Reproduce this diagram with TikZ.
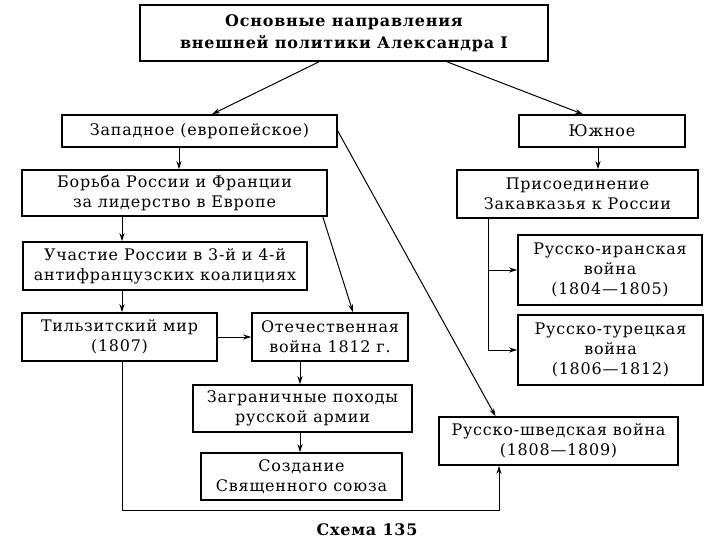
\documentclass[tikz,border=0pt]{standalone}
\usepackage{fontspec}
\setmainfont{DejaVu Serif}[LetterSpace=5]
\usetikzlibrary{arrows.meta,positioning}
\tikzset{
  box/.style  = {draw=black, line width=1.6bp, align=center, inner sep=0pt,
                 font=\fontsize{16}{20}\selectfont},
  hbox/.style = {box, font=\fontsize{16}{22}\selectfont\bfseries},
  wh/.style 2 args = {minimum width=#1, minimum height=#2},
  ar/.style   = {-{Stealth[length=8bp, width=5bp]}, line width=1bp},
  caption/.style = {font=\fontsize{16}{18}\selectfont\bfseries},
}
\begin{document}
\begin{tikzpicture}[x=1bp, y=-1bp]
  \useasboundingbox (0,0) rectangle (720,540);
  % heading
  \node[hbox, wh={408bp}{56bp}] (main) at (344,33) {Основные направления\\внешней политики Александра I};
  % two directions
  \node[box, wh={275bp}{32bp}] (west) at (199.5,131) {Западное (европейское)};
  \node[box, wh={166bp}{32bp}] (south) at (602,131) {Южное};
  % western branch
  \node[box, wh={305bp}{46bp}] (struggle) at (174.5,193) {Борьба России и Франции\\за лидерство в Европе};
  \node[box, wh={284bp}{48bp}] (coalition) at (165,266) {Участие России в 3-й и 4-й\\антифранцузских коалициях};
  \node[box, wh={195bp}{48bp}] (tilsit) at (119.5,337) {Тильзитский мир\\(1807)};
  \node[box, wh={156bp}{48bp}] (patriotic) at (330,337) {Отечественная\\война 1812 г.};
  \node[box, wh={219bp}{47bp}] (campaigns) at (302.5,408.5) {Заграничные походы\\русской армии};
  \node[box, wh={201bp}{47bp}] (alliance) at (301.5,476.5) {Создание\\Священного союза};
  \node[box, wh={239bp}{48bp}] (sweden) at (558.5,441) {Русско-шведская война\\(1808---1809)};
  % southern branch
  \node[box, wh={241bp}{48bp}] (annex) at (577.5,194) {Присоединение\\Закавказья к России};
  \node[box, wh={184bp}{70bp}] (iran) at (610,270) {Русско-иранская\\война\\(1804---1805)};
  \node[box, wh={185bp}{70bp}] (turkey) at (610.5,350) {Русско-турецкая\\война\\(1806---1812)};
  \node[caption] (title) at (367,530) {Схема 135};

  \draw[ar] ([xshift=-25bp]main.south) -- ([xshift=12.5bp]west.north);
  \draw[ar] ([xshift=103bp]main.south) -- ([xshift=-19bp]south.north);
  \draw[ar] ([xshift=-20.5bp]west.south) -- ([xshift=-20.5bp]west.south |- struggle.north);
  \draw[ar] (west.east) -- ([xshift=-63bp]sweden.north);
  \draw[ar] ([xshift=-52.5bp]struggle.south) -- ([xshift=-52.5bp]struggle.south |- coalition.north);
  \draw[ar] ([xshift=-5bp]struggle.south east) -- ([xshift=23bp]patriotic.north);
  \draw[ar] ([xshift=2.5bp]tilsit.north |- coalition.south) -- ([xshift=2.5bp]tilsit.north);
  \draw[ar] (tilsit.east) -- (patriotic.west);
  \draw[ar] ([xshift=-30bp]patriotic.south) -- ([xshift=-30bp]patriotic.south |- campaigns.north);
  \draw[ar] ([xshift=-2.5bp]campaigns.south) -- ([xshift=-2.5bp]campaigns.south |- alliance.north);
  \draw[ar] ([xshift=2.5bp]tilsit.south) -- ++(0,149) -| ([xshift=-59.5bp]sweden.south);
  \draw[ar] ([xshift=-4bp]south.south) -- ([xshift=-4bp]south.south |- annex.north);
  \draw[ar] ([xshift=-89.5bp]annex.south) |- (iran.west);
  \draw[ar] ([xshift=-89.5bp]annex.south) |- (turkey.west);
\end{tikzpicture}
\end{document}
